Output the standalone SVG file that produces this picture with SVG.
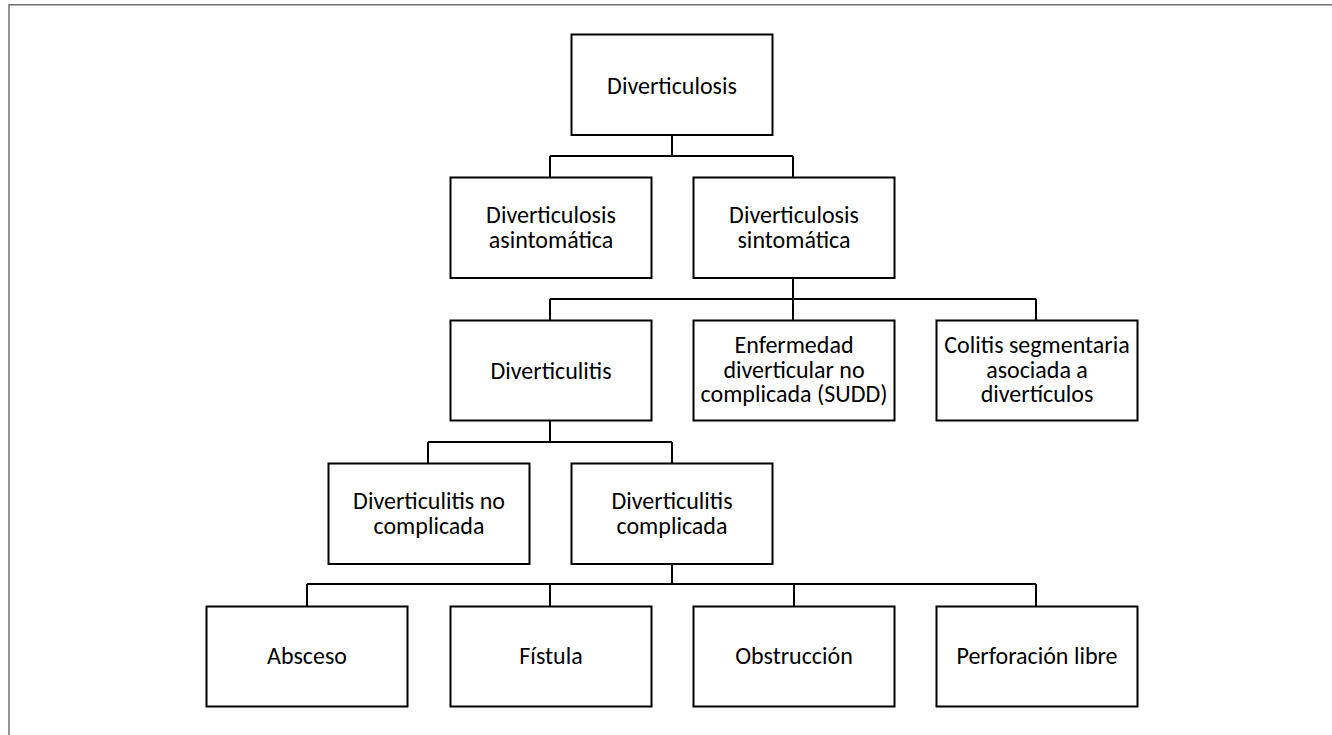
<svg xmlns="http://www.w3.org/2000/svg" width="1332" height="735" viewBox="0 0 1332 735">
<style>
.box{fill:#fff;stroke:#000;stroke-width:2}
.lbl{font-family:Carlito,Calibri,Lato,"Liberation Sans",sans-serif;font-size:24px;fill:#000;text-anchor:middle}
.con{fill:none;stroke:#000;stroke-width:2}
.frame{stroke:#707070;stroke-width:1.5;fill:none}
</style>
<rect width="1332" height="735" fill="#fff"/>
<path class="frame" d="M9 735 V4.75 H1332"/>
<g id="connectors">
<path class="con" d="M672 135 V156 M550 156 H793 M550 156 V177 M793 156 V177"/>
<path class="con" d="M793 278 V299 M550 299 H1036 M550 299 V320 M793 299 V320 M1036 299 V320"/>
<path class="con" d="M550 420 V442 M428 442 H672 M428 442 V463 M672 442 V463"/>
<path class="con" d="M672 564 V584 M307 584 H1036 M307 584 V606 M550 584 V606 M794 584 V606 M1036 584 V606"/>
</g>
<g id="n-diverticulosis"><rect class="box" x="571.5" y="34.5" width="201" height="100.5"/><text class="lbl" x="672" y="94">Diverticulosis</text></g>
<g id="n-asintomatica"><rect class="box" x="450.5" y="177.5" width="201" height="100.5"/><text class="lbl" x="551" y="223">Diverticulosis<tspan x="551" dy="24.5">asintomática</tspan></text></g>
<g id="n-sintomatica"><rect class="box" x="693.5" y="177.5" width="201" height="100.5"/><text class="lbl" x="794" y="223">Diverticulosis<tspan x="794" dy="24.5">sintomática</tspan></text></g>
<g id="n-diverticulitis"><rect class="box" x="450.5" y="320.5" width="201" height="100"/><text class="lbl" x="551" y="379">Diverticulitis</text></g>
<g id="n-sudd"><rect class="box" x="693.5" y="320.5" width="201" height="100"/><text class="lbl" x="794" y="353">Enfermedad<tspan x="794" dy="24.5">diverticular no</tspan><tspan x="794" dy="24.5">complicada (SUDD)</tspan></text></g>
<g id="n-colitis"><rect class="box" x="936.5" y="320.5" width="201" height="100"/><text class="lbl" x="1037" y="353">Colitis segmentaria<tspan x="1037" dy="24.5">asociada a</tspan><tspan x="1037" dy="24.5">divertículos</tspan></text></g>
<g id="n-no-complicada"><rect class="box" x="328.5" y="463.5" width="201" height="100.5"/><text class="lbl" x="429" y="509">Diverticulitis no<tspan x="429" dy="24.5">complicada</tspan></text></g>
<g id="n-complicada"><rect class="box" x="571.5" y="463.5" width="201" height="100.5"/><text class="lbl" x="672" y="509">Diverticulitis<tspan x="672" dy="24.5">complicada</tspan></text></g>
<g id="n-absceso"><rect class="box" x="206.5" y="606.5" width="201" height="100"/><text class="lbl" x="307" y="664">Absceso</text></g>
<g id="n-fistula"><rect class="box" x="450.5" y="606.5" width="201" height="100"/><text class="lbl" x="551" y="664">Fístula</text></g>
<g id="n-obstruccion"><rect class="box" x="693.5" y="606.5" width="201" height="100"/><text class="lbl" x="794" y="664">Obstrucción</text></g>
<g id="n-perforacion"><rect class="box" x="936.5" y="606.5" width="201" height="100"/><text class="lbl" x="1037" y="664">Perforación libre</text></g>
</svg>
